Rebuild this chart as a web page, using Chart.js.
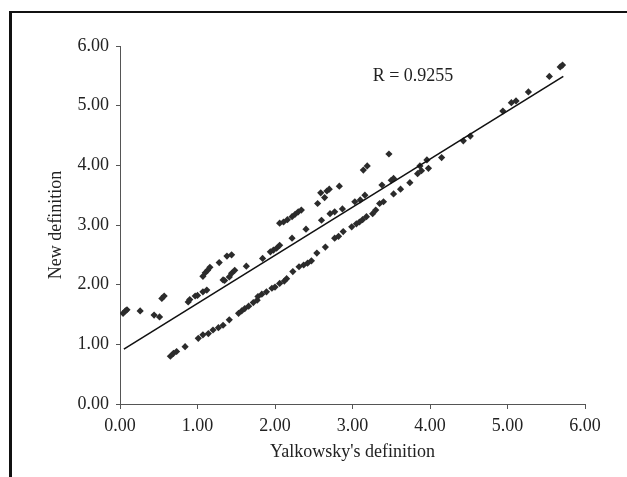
<!DOCTYPE html>
<html>
<head>
<meta charset="utf-8">
<script src="https://cdn.jsdelivr.net/npm/chart.js@4.4.0/dist/chart.umd.min.js"></script>
<style>
html,body{margin:0;padding:0;background:#fff;}
#wrap{width:627px;height:477px;position:relative;}
</style>
</head>
<body>
<div id="wrap"><canvas id="c" width="627" height="477"></canvas></div>
<script>
const upperX = [0.04,0.07,0.09,0.26,0.44,0.51,0.54,0.57,0.88,0.90,0.97,1.00,1.07,1.12,1.07,1.10,1.13,1.16,1.28,1.38,1.44,1.33,1.35,1.41,1.44,1.48,1.63,1.84,1.94,1.98,2.02,2.06,2.22,2.40,2.06,2.11,2.16,2.22,2.26,2.30,2.34,2.55,2.59,2.64,2.67,2.70,2.83,2.60,2.71,2.77,2.87,3.03,3.10,3.16,3.14,3.19,3.47,3.38,3.50,3.53,3.87,3.96,4.15];
const upperY = [1.52,1.56,1.58,1.56,1.49,1.46,1.77,1.81,1.71,1.75,1.81,1.82,1.88,1.91,2.14,2.20,2.24,2.29,2.37,2.48,2.50,2.08,2.07,2.13,2.19,2.24,2.31,2.44,2.55,2.58,2.61,2.66,2.78,2.93,3.03,3.05,3.09,3.14,3.18,3.22,3.25,3.36,3.54,3.46,3.57,3.60,3.65,3.08,3.19,3.22,3.27,3.39,3.42,3.50,3.92,3.99,4.19,3.67,3.75,3.78,3.99,4.09,4.13];
const lowerX = [0.65,0.69,0.73,0.84,1.01,1.07,1.14,1.20,1.27,1.33,1.41,1.53,1.57,1.61,1.66,1.72,1.77,1.78,1.83,1.89,1.96,2.00,2.06,2.12,2.15,2.23,2.31,2.37,2.42,2.47,2.54,2.65,2.77,2.82,2.88,2.99,3.05,3.09,3.13,3.18,3.26,3.30,3.35,3.40,3.53,3.62,3.74,3.84,3.89,3.98];
const lowerY = [0.80,0.85,0.88,0.96,1.10,1.16,1.18,1.24,1.28,1.32,1.41,1.52,1.56,1.60,1.64,1.70,1.74,1.80,1.84,1.88,1.94,1.96,2.02,2.06,2.10,2.22,2.30,2.33,2.36,2.40,2.53,2.63,2.78,2.81,2.89,2.97,3.02,3.05,3.09,3.14,3.19,3.25,3.36,3.39,3.52,3.60,3.71,3.86,3.91,3.95];
const highX = [4.43,4.52,4.94,5.05,5.11,5.27,5.54,5.68,5.71];
const highY = [4.41,4.49,4.91,5.05,5.08,5.23,5.49,5.65,5.68];
const trendX = [0.05,5.72];
const trendY = [0.92,5.49];
const tickValues = [0,1,2,3,4,5,6];
const xTitle = "Yalkowsky's definition";
const yTitle = "New definition";
const rLabel = "R = 0.9255";
const rLabelPos = [3.26, 5.49];

const pts = [];
[[upperX,upperY],[lowerX,lowerY],[highX,highY]].forEach(([xs,ys])=>{
  xs.forEach((x,i)=>pts.push({x:x,y:ys[i]}));
});
const trend = trendX.map((x,i)=>({x:x,y:trendY[i]}));

const FONT = "'Liberation Serif','Times New Roman',serif";
const TXT = '#222';
const AX = '#555';

const framePlugin = {
  id:'frame',
  afterDraw(chart){
    const ctx = chart.ctx;
    ctx.save();
    ctx.strokeStyle = '#111';
    ctx.lineWidth = 3;
    ctx.beginPath();
    ctx.moveTo(10.5, 477);
    ctx.lineTo(10.5, 12);
    ctx.stroke();
    ctx.lineWidth = 2;
    ctx.beginPath();
    ctx.moveTo(9, 12);
    ctx.lineTo(627, 12);
    ctx.stroke();
    const xs = chart.scales.x, ys = chart.scales.y;
    ctx.fillStyle = TXT;
    ctx.font = "18px " + FONT;
    ctx.textAlign = 'left';
    ctx.textBaseline = 'middle';
    ctx.fillText(rLabel, xs.getPixelForValue(rLabelPos[0]), ys.getPixelForValue(rLabelPos[1]));
    ctx.restore();
  }
};

new Chart(document.getElementById('c'), {
  type:'scatter',
  data:{
    datasets:[
      {
        data: pts,
        pointStyle:'rectRot',
        pointRadius:3.6,
        pointHoverRadius:3.6,
        backgroundColor:'#2b2b2b',
        borderColor:'#2b2b2b',
        borderWidth:0,
        showLine:false,
        order:2
      },
      {
        data: trend,
        showLine:true,
        pointRadius:0,
        borderColor:'#111',
        borderWidth:1.6,
        fill:false,
        order:1
      }
    ]
  },
  options:{
    responsive:false,
    animation:false,
    devicePixelRatio:1,
    layout:{padding:{left:0,top:46,right:42,bottom:0}},
    plugins:{legend:{display:false},tooltip:{enabled:false}},
    scales:{
      x:{
        type:'linear', min:0, max:6,
        afterBuildTicks(s){ s.ticks = tickValues.map(v=>({value:v})); },
        afterFit(s){ s.height = 73; },
        ticks:{ callback:v=>Number(v).toFixed(2), color:TXT, font:{family:FONT,size:18}, padding:6, maxRotation:0, autoSkip:false },
        grid:{ drawOnChartArea:false, drawTicks:true, tickLength:5, color:AX, lineWidth:1 },
        border:{ display:true, color:AX, width:1 },
        title:{ display:true, text:xTitle, color:TXT, font:{family:FONT,size:18}, padding:{top:0,bottom:14} }
      },
      y:{
        type:'linear', min:0, max:6,
        afterBuildTicks(s){ s.ticks = tickValues.map(v=>({value:v})); },
        afterFit(s){ s.width = 120; },
        ticks:{ callback:v=>Number(v).toFixed(2), color:TXT, font:{family:FONT,size:18}, padding:7, autoSkip:false },
        grid:{ drawOnChartArea:false, drawTicks:true, tickLength:4, color:AX, lineWidth:1 },
        border:{ display:true, color:AX, width:1 },
        title:{ display:true, text:yTitle, color:TXT, font:{family:FONT,size:18}, padding:{top:45,bottom:0} }
      }
    }
  },
  plugins:[framePlugin]
});
</script>
</body>
</html>
